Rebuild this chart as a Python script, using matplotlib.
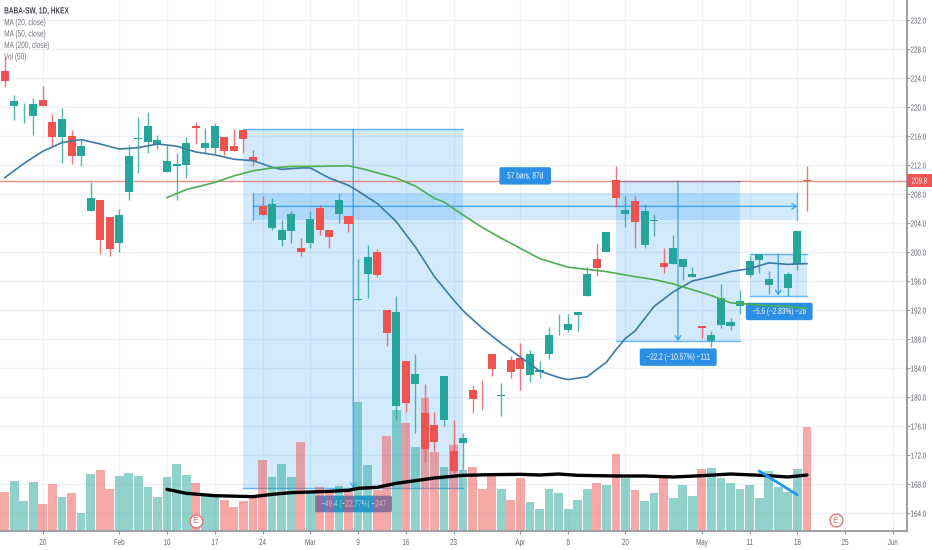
import numpy as np
import matplotlib
matplotlib.use("Agg")
import matplotlib.pyplot as plt
from matplotlib.patches import Rectangle, FancyBboxPatch
from matplotlib.patheffects import AbstractPathEffect
from matplotlib.transforms import Affine2D

plt.rcParams['font.family'] = ['Liberation Sans', 'DejaVu Sans']

W, H = 932, 550
UP, DOWN = '#ef5350', '#26a69a'   # red = close above open on this chart
BLUE = '#2196f3'

nan = float('nan')
opens = [223.6,220.8,219.5,220.4,220.2,215.8,218.4,213.3,214.6,207.4,201.7,200.4,205.1,213.2,215.7,217.4,215.4,212.6,212.2,215.0,
         217.1,215.0,217.4,214.0,214.0,215.6,212.5,205.1,206.6,203.0,205.2,200.0,204.6,203.1,202.1,207.2,203.8,193.5,199.3,196.8,
         188.8,191.7,179.2,183.2,172.8,173.8,182.9,169.8,174.4,179.7,180.9,183.8,180.3,183.4,183.9,186.0,183.7,188.6,191.5,190.1,
         191.7,197.0,197.8,202.8,207.5,205.8,204.2,205.6,204.4,197.9,200.6,199.0,196.9,189.5,188.5,193.6,190.4,193.3,198.7,199.7,
         196.3,nan,197.0,202.9,209.8]
closes = [225.0,220.2,219.4,218.8,221.0,218.0,215.8,216.0,213.3,205.7,207.2,204.8,201.2,208.3,215.6,215.2,214.9,211.1,211.8,212.0,
          217.4,214.3,214.3,215.8,214.6,216.8,213.1,206.4,203.3,201.7,202.9,200.6,201.2,206.1,203.0,205.2,205.0,193.4,196.9,200.0,
          192.0,178.8,185.0,181.8,177.8,176.1,176.8,172.5,173.6,181.0,181.0,186.0,180.2,185.1,185.4,183.0,183.4,185.9,191.4,189.2,
          191.3,193.9,199.0,200.0,209.9,205.3,207.0,200.9,204.3,198.5,198.4,198.0,196.5,189.8,187.7,189.9,189.8,192.5,196.8,198.9,
          195.4,nan,195.1,198.3,210.0]
highs = [226.9,221.7,220.6,221.2,222.9,219.0,219.8,216.8,215.4,209.6,207.2,204.8,206.0,214.8,218.6,219.3,216.1,214.8,213.6,215.8,
         218.0,217.1,217.8,215.9,216.9,216.8,214.1,207.7,207.4,204.4,205.6,201.9,205.6,206.5,203.0,208.2,205.0,199.0,201.0,200.4,
         192.0,193.9,185.0,185.9,181.8,178.0,182.9,176.8,175.0,181.7,182.3,186.0,182.0,185.6,187.4,186.5,184.9,189.7,191.5,191.4,
         191.7,198.0,201.2,202.8,211.8,207.7,207.7,206.6,205.2,200.5,202.3,199.0,197.9,189.8,189.1,195.6,190.9,194.8,199.4,199.7,
         197.4,nan,197.2,202.9,211.8]
lows = [222.8,218.2,217.8,216.1,220.2,214.5,212.3,212.1,211.8,205.7,199.7,199.4,200.0,207.2,210.9,213.7,214.2,211.1,207.2,210.2,
        214.9,213.6,213.5,213.4,214.0,213.7,211.9,205.1,203.0,200.8,201.3,199.5,200.6,202.3,200.5,204.0,202.8,193.4,193.6,196.6,
        187.0,176.8,178.0,175.0,171.0,172.5,176.0,169.5,170.0,177.8,178.2,182.9,177.4,182.6,181.0,182.1,182.6,185.2,188.5,188.9,
        189.1,193.9,196.7,200.0,206.2,203.4,200.5,200.6,202.2,197.1,198.4,196.2,196.5,188.1,186.9,189.5,189.2,191.5,196.5,197.1,
        194.2,nan,194.0,197.5,205.6]
volumes = [114,148,87,144,77,138,99,110,51,168,179,123,162,170,162,128,98,158,198,166,
           140,102,102,90,70,87,98,209,158,197,158,263,115,130,120,132,120,383,195,120,
           283,360,320,248,397,235,188,255,180,190,122,162,123,91,155,83,63,124,111,63,
           90,124,140,134,227,156,120,87,111,158,95,135,102,182,185,156,140,122,134,95,
           177,130,114,182,308]
vol_is_up = [1,0,0,0,1,1,0,1,0,0,1,1,0,0,0,0,0,0,0,0,
             1,0,0,1,1,1,1,1,0,0,0,1,0,1,1,0,1,0,0,1,
             1,0,1,0,1,1,0,1,0,1,1,1,0,1,1,0,0,0,0,0,
             0,0,1,0,1,0,1,0,0,1,0,0,0,1,0,0,0,0,0,0,
             0,0,0,0,1]

ma20_x = [0,2,4,6,8,10,12,14,16,18,20,22,24,26,28,29,31,32,34,36,37,39,41,43,45,47,48,50,52,54,56,58,59,61,63,64,65,66,68,70,72,74,76,78,80,82,84]
ma20_y = [210.25,212.2,213.9,215.1,215.5,214.9,214.2,214.4,214.9,214.6,213.8,213.4,212.8,212.6,211.7,211.4,211.6,211.6,210.2,209.2,208.4,206.7,204.2,200.7,196.6,193.4,191.9,189.5,187.4,185.5,183.6,182.7,182.4,182.8,184.8,186.5,188.1,189.1,192.5,194.5,196.0,196.6,197.3,197.7,198.5,198.3,198.4]
ma50_x = [17,19,22,24,26,28,30,32,36,38,41,43,45,46,48,50,52,54,56,59,61,63,66,68,70,72,74,76,78,80,82,84]
ma50_y = [207.5,208.6,209.6,210.5,211.2,211.6,211.8,211.8,211.9,211.3,210.2,209.1,207.4,206.9,205.1,203.4,201.9,200.5,199.1,197.9,197.6,197.3,196.6,196.2,195.6,194.8,194.0,193.0,192.8,192.6,192.5,192.2]
volma_x = [17,19,22,26,28,30,34,36,37,39,41,43,45,48,51,54,56,58,60,64,67,70,73,76,80,82,84]
volma_y = [122,110,103,100,107,112,116,119,125,128,140,148,156,164,166,167,165,168,164,162,162,159,163,168,163,159,165]

price_ticks = list(range(164, 233, 4))
time_tick_pos = [4,12,17,22,27,32,37,42,47,54,59,65,73,78,83,88,93]
time_tick_labels = ['20','Feb','10','17','24','Mar','9','16','23','Apr','8','20','May','11','18','25','Jun']

last_price = 209.8
# measure tools: (first bar, last bar, top price, bottom price)
measures = [(25,48,216.9,167.4),(64,77,209.8,187.7),(78,84,199.7,194.0)]
measure_labels = ['\u221249.4 (\u221222.77%) \u2212247','\u221222.2 (\u221210.57%) \u2212111','\u22125.6 (\u22122.83%) \u221228']
measure_boxes = [(32.5,40.55,164.1,166.4),(66.5,74.55,184.3,186.7),(77.6,84.6,190.6,193.0)]
range_tool = (26,83,208.2,204.4)
range_label = '57 bars, 87d'
range_box = (51.8,57.2,209.3,211.7)
trend_x, trend_y = [79,83],[169.8,166.5]
earn_x, earn_y = [20,87],[162.9,163.0]

legend_lines = ['BABA-SW, 1D, HKEX','MA (20, close)','MA (50, close)','MA (200, close)','Vol (50)']


class Condense(AbstractPathEffect):
    """Squeeze a text horizontally, about its left end or its centre."""
    def __init__(self, sx=0.72, centre=True):
        super().__init__()
        self.sx, self.centre = sx, centre

    def draw_path(self, renderer, gc, tpath, affine, rgbFace=None):
        ext = tpath.get_extents()
        cx = (ext.x0 + ext.x1) / 2 if self.centre else ext.x0
        m = Affine2D().translate(-cx, 0).scale(self.sx, 1).translate(cx, 0) + affine
        renderer.draw_path(gc, tpath, m, rgbFace)


CENTRE, LEFT = [Condense(0.72, True)], [Condense(0.72, False)]

fig = plt.figure(figsize=(W/100,H/100),dpi=100,facecolor='white')
rect = [0,19/H,907/W,531/H]
ax = fig.add_axes(rect)
ax_v = fig.add_axes(rect,sharex=ax,facecolor='none')
ax_c = fig.add_axes(rect,sharex=ax,sharey=ax,facecolor='none')

ax.set_xlim(-0.49,94.48)
ax.set_ylim(161.52,234.76)
ax_v.set_ylim(-3,1590)

# grid + axes
ax.set_axisbelow(True)
ax.grid(True,color='#eef1f6',lw=1)
ax.yaxis.tick_right()
ax.set_yticks(price_ticks)
ax.set_yticklabels([f'{p:.1f}' for p in price_ticks],fontsize=6.2,color='#5d606b')
ax.set_xticks(time_tick_pos)
ax.set_xticklabels(time_tick_labels,fontsize=6.2,color='#5d606b')
ax.tick_params(axis='both',length=2,width=0.8,color='#9598a1')
ax.tick_params(axis='y',pad=0.5)
ax.tick_params(axis='x',pad=3)
for t in ax.get_yticklabels():
    t.set_path_effects(LEFT)
for t in ax.get_xticklabels():
    t.set_path_effects(CENTRE)
for s in ['left','top']:
    ax.spines[s].set_visible(False)
for s in ['right','bottom']:
    ax.spines[s].set_color('#8a8d96')
    ax.spines[s].set_linewidth(1.2)
for a in (ax_v,ax_c):
    a.axis('off')

# last price line and tag
ax.axhline(last_price,color=UP,lw=1,alpha=0.65,zorder=2.5)
tag_tr = ax.get_yaxis_transform()
ax.add_patch(Rectangle((1,last_price-0.9),25/907,1.8,transform=tag_tr,fc=UP,ec='none',clip_on=False,zorder=9))
ax.text(1+12.5/907,last_price,f'{last_price:.1f}',transform=tag_tr,fontsize=6.2,color='white',
        ha='center',va='center',zorder=10,clip_on=False,path_effects=CENTRE)

def label_box(box,text):
    x0,x1,y0,y1 = box
    aspect = (73.24/531)/(94.97/907)
    p = FancyBboxPatch((x0,y0),x1-x0,y1-y0,boxstyle='round,pad=0,rounding_size=0.2',
                       mutation_aspect=aspect,fc='#2c8fe6',ec='none',zorder=3)
    ax.add_patch(p)
    ax.text((x0+x1)/2,(y0+y1)/2,text,color='white',fontsize=6.5,ha='center',va='center',zorder=3.1,path_effects=CENTRE)

# measure tools
for (x0,x1,top,bot),txt,box in zip(measures,measure_labels,measure_boxes):
    ax.add_patch(Rectangle((x0,bot),x1-x0,top-bot,fc=BLUE,alpha=0.2,ec='none',zorder=2))
    ax.plot([x0,x1],[top,top],color=BLUE,alpha=0.7,lw=1,zorder=2.2)
    ax.plot([x0,x1],[bot,bot],color=BLUE,alpha=0.7,lw=1,zorder=2.2)
    mid = (x0+x1)/2
    ax.annotate('',xy=(mid,bot),xytext=(mid,top),zorder=2.2,
                arrowprops=dict(arrowstyle='->,head_length=0.3,head_width=0.2',color=BLUE,alpha=0.8,lw=1,shrinkA=0,shrinkB=0))
    label_box(box,txt)

# horizontal range tool
x0,x1,top,bot = range_tool
ax.add_patch(Rectangle((x0,bot),x1-x0,top-bot,fc=BLUE,alpha=0.2,ec='none',zorder=2))
ax.plot([x0,x0],[bot,top],color=BLUE,alpha=0.7,lw=1,zorder=2.2)
ax.plot([x1,x1],[bot,top],color=BLUE,alpha=0.7,lw=1,zorder=2.2)
ax.annotate('',xy=(x1,(top+bot)/2),xytext=(x0,(top+bot)/2),zorder=2.2,
            arrowprops=dict(arrowstyle='->,head_length=0.3,head_width=0.2',color=BLUE,alpha=0.8,lw=1,shrinkA=0,shrinkB=0))
label_box(range_box,range_label)

# volume
xs = np.arange(len(volumes))
vcol = [UP if u else DOWN for u in vol_is_up]
ax_v.bar(xs,volumes,width=0.92,color=vcol,alpha=0.5,zorder=2)
ax_v.plot(volma_x,volma_y,color='black',lw=2.4,zorder=5,solid_capstyle='round')

# candles
o,c,h,l = map(np.array,(opens,closes,highs,lows))
col = [UP if b>a else DOWN for a,b in zip(opens,closes)]
ok = ~np.isnan(o)
ax_c.vlines(xs[ok],l[ok],h[ok],color=np.array(col)[ok],lw=1,alpha=0.8,zorder=3)
ax_c.bar(xs[ok],(c-o)[ok],bottom=o[ok],width=0.84,color=np.array(col)[ok],zorder=4)

# moving averages
ax_c.plot(ma20_x,ma20_y,color='#3a7ca5',lw=1.2,zorder=5)
ax_c.plot(ma50_x,ma50_y,color='#4caf50',lw=1.2,zorder=5)
ax_c.plot(trend_x,trend_y,color=BLUE,lw=2,zorder=6,solid_capstyle='round')

# earnings markers
ax_c.scatter(earn_x,earn_y,s=85,fc='white',ec='#e57373',lw=1,zorder=7,clip_on=False)
for ex,ey in zip(earn_x,earn_y):
    ax_c.text(ex,ey,'E',color='#e57373',fontsize=6.5,ha='center',va='center',zorder=8)

# legend text
for i,(t,py) in enumerate(zip(legend_lines,[11,22.7,34,45.4,57])):
    fig.text(4/W,1-py/H,t,fontsize=6.5,ha='left',va='center',
             color='#434651' if i==0 else '#6f727c',fontweight='bold' if i==0 else 'normal',zorder=10,path_effects=LEFT)

fig.savefig('out.png',dpi=100)
